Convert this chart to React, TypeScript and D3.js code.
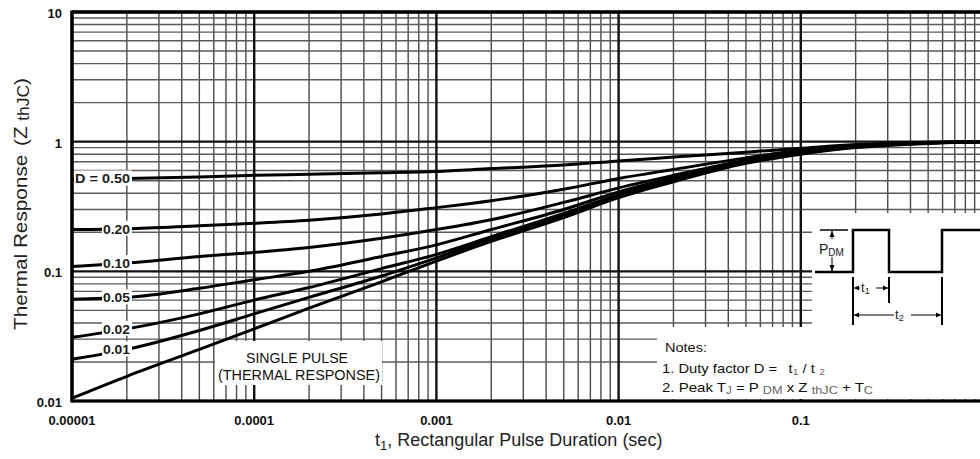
import * as d3 from "d3";

// pulse duration t1 (sec) at which each curve is read
const durations = [1e-5, 2e-5, 5e-5, 1e-4, 2e-4, 5e-4, 1e-3, 2e-3, 5e-3, 1e-2, 2e-2, 5e-2, 1e-1, 2e-1, 5e-1, 1];

// Z thJC for each duty factor
const d050 = [0.51, 0.52, 0.535, 0.55, 0.56, 0.575, 0.59, 0.62, 0.66, 0.71, 0.76, 0.83, 0.89, 0.95, 0.99, 1.0];
const d020 = [0.21, 0.213, 0.225, 0.235, 0.248, 0.277, 0.31, 0.35, 0.43, 0.52, 0.61, 0.75, 0.86, 0.93, 0.985, 1.0];
const d010 = [0.109, 0.116, 0.13, 0.14, 0.153, 0.18, 0.21, 0.25, 0.34, 0.44, 0.55, 0.72, 0.84, 0.93, 0.98, 1.0];
const d005 = [0.061, 0.063, 0.074, 0.086, 0.1, 0.13, 0.16, 0.21, 0.3, 0.41, 0.53, 0.71, 0.83, 0.92, 0.98, 1.0];
const d002 = [0.031, 0.036, 0.047, 0.06, 0.075, 0.105, 0.135, 0.185, 0.28, 0.39, 0.51, 0.7, 0.82, 0.92, 0.98, 1.0];
const d001 = [0.021, 0.025, 0.035, 0.047, 0.063, 0.092, 0.127, 0.178, 0.27, 0.38, 0.5, 0.69, 0.81, 0.91, 0.975, 1.0];
const singlePulse = [0.0105, 0.0155, 0.025, 0.036, 0.052, 0.083, 0.12, 0.17, 0.26, 0.37, 0.49, 0.68, 0.8, 0.9, 0.97, 1.0];

const dutyLabels = ["D = 0.50", "0.20", "0.10", "0.05", "0.02", "0.01"];
const dutySeries = [d050, d020, d010, d005, d002, d001];

const xTickLabels = ["0.00001", "0.0001", "0.001", "0.01", "0.1"];
const yTickLabels = ["0.01", "0.1", "1", "10"];

const width = 980;
const height = 459;
const font = "'Liberation Sans', Arial, sans-serif";
const narrow = "'Liberation Sans Narrow', 'Liberation Sans', Arial, sans-serif";

export default function App() {
  const x = d3.scaleLog().domain([1e-5, 1]).range([72, 983]);
  const y = d3.scaleLog().domain([0.01, 10]).range([401, 12]);

  const minorX: number[] = [];
  for (let e = -5; e <= -1; e++) for (let k = 2; k <= 9; k++) minorX.push(k * Math.pow(10, e));
  const minorY: number[] = [];
  for (let e = -2; e <= 0; e++) for (let k = 2; k <= 9; k++) minorY.push(k * Math.pow(10, e));
  const majorX = xTickLabels.map((d) => +d).concat([1]);
  const majorY = yTickLabels.map((d) => +d);

  const line = d3
    .line<number>()
    .x((_, i) => x(durations[i]))
    .y((d) => y(d))
    .curve(d3.curveMonotoneX);

  const [x0] = x.range();
  const [y0, y1] = y.range();

  return (
    <svg width={width} height={height} style={{ position: "absolute", left: 0, top: 0, background: "#fff" }}>
      {/* grid */}
      <g>
        {minorX.map((d) => (
          <line key={"mx" + d} x1={x(d)} x2={x(d)} y1={y1} y2={y0} stroke="#4a4a4a" strokeWidth={1.4} />
        ))}
        {minorY.map((d) => (
          <line key={"my" + d} x1={x0} x2={width} y1={y(d)} y2={y(d)} stroke="#5a5a5a" strokeWidth={1.4} />
        ))}
        {majorX.map((d) => (
          <line key={"Mx" + d} x1={x(d)} x2={x(d)} y1={y1} y2={y0} stroke="#111" strokeWidth={2.4} />
        ))}
        {majorY.map((d) => (
          <line key={"My" + d} x1={x0} x2={width} y1={y(d)} y2={y(d)} stroke="#111" strokeWidth={2.4} />
        ))}
      </g>

      {/* white panels over the grid */}
      <rect x={657} y={327} width={width - 657} height={72} fill="#fff" />
      <rect x={812} y={213} width={width - 812} height={114} fill="#fff" />
      <rect x={215} y={341} width={167} height={44} fill="#fff" />

      {/* curves */}
      {dutySeries.concat([singlePulse]).map((s, i) => (
        <path key={"c" + i} d={line(s) || ""} fill="none" stroke="#000" strokeWidth={3} strokeLinejoin="round" />
      ))}

      {/* curve labels */}
      {dutySeries.map((s, i) => {
        const ly = y(s[1]);
        const lx = i === 0 ? 75 : 103;
        return (
          <g key={"l" + i}>
            <rect x={lx - 1} y={ly - 8} width={132 - lx + 1} height={15} fill="#fff" />
            <text x={lx} y={ly + 5} fontFamily={font} fontSize={13} fontWeight="bold" fill="#1a1a1a"
              textLength={130 - lx} lengthAdjust="spacingAndGlyphs">
              {dutyLabels[i]}
            </text>
          </g>
        );
      })}

      {/* single pulse label */}
      <text x={297} y={363} textAnchor="middle" fontFamily={narrow} fontSize={14} fill="#111"
        textLength={102} lengthAdjust="spacingAndGlyphs">SINGLE PULSE</text>
      <text x={299} y={380} textAnchor="middle" fontFamily={narrow} fontSize={14} fill="#111"
        textLength={162} lengthAdjust="spacingAndGlyphs">(THERMAL RESPONSE)</text>

      {/* frame */}
      <line x1={x0} x2={width} y1={y1} y2={y1} stroke="#000" strokeWidth={3.5} />
      <line x1={x0} x2={width} y1={y0} y2={y0} stroke="#000" strokeWidth={3} />
      <line x1={x0} x2={x0} y1={y1 - 1.5} y2={y0 + 1.5} stroke="#000" strokeWidth={3.5} />

      {/* tick labels */}
      {yTickLabels.map((t) => (
        <text key={"yt" + t} x={62} y={y(+t) + 6} textAnchor="end" fontFamily={font} fontSize={13} fontWeight="bold" fill="#111">
          {t}
        </text>
      ))}
      {xTickLabels.map((t) => (
        <text key={"xt" + t} x={x(+t)} y={425} textAnchor="middle" fontFamily={font} fontSize={13} fontWeight="bold" fill="#111">
          {t}
        </text>
      ))}

      {/* axis titles */}
      <text x={375} y={446} fontFamily={font} fontSize={18} fill="#222">
        t<tspan fontSize={13} dy={4}>1</tspan>
        <tspan dy={-4}>, Rectangular Pulse Duration (sec)</tspan>
      </text>
      <text transform="translate(27,204) rotate(-90)" textAnchor="middle" fontFamily={font} fontSize={19} fill="#222"
        textLength={252} lengthAdjust="spacingAndGlyphs">
        Thermal Response<tspan dx={8}>(Z</tspan>
        <tspan dx={5} dy={2} fontSize={16}>thJC</tspan>
        <tspan dy={-2}>)</tspan>
      </text>

      {/* pulse diagram */}
      <g stroke="#000" fill="none">
        <path d="M815,272 H853 V230 H889 V272 H942 V230 H980" strokeWidth={2.5} />
        <line x1={820} x2={848} y1={230} y2={230} strokeWidth={1.5} />
        <line x1={832} x2={832} y1={231} y2={271} strokeWidth={1} />
        <line x1={853} x2={853} y1={277} y2={325} strokeWidth={2} />
        <line x1={889} x2={889} y1={277} y2={303} strokeWidth={2} />
        <line x1={942} x2={942} y1={277} y2={325} strokeWidth={2} />
        <line x1={854} x2={888} y1={288} y2={288} strokeWidth={1} />
        <line x1={854} x2={941} y1={315} y2={315} strokeWidth={1} />
      </g>
      <g fill="#000">
        <path d="M832,231 l-2.5,6 h5 z" />
        <path d="M832,271 l-2.5,-6 h5 z" />
        <path d="M854,288 l5,-2.5 v5 z" />
        <path d="M888,288 l-5,-2.5 v5 z" />
        <path d="M854,315 l5,-2.5 v5 z" />
        <path d="M941,315 l-5,-2.5 v5 z" />
      </g>
      <rect x={819} y={239} width={31} height={18} fill="#fff" />
      <text x={819} y={254} fontFamily={font} fontSize={14} fill="#222">
        P<tspan fontSize={10} dy={2}>DM</tspan>
      </text>
      <rect x={860} y={280} width={16} height={15} fill="#fff" />
      <text x={861} y={292} fontFamily={font} fontSize={13} fill="#222">
        t<tspan fontSize={9} dy={2}>1</tspan>
      </text>
      <rect x={894} y={306} width={17} height={16} fill="#fff" />
      <text x={895} y={319} fontFamily={font} fontSize={13} fill="#222">
        t<tspan fontSize={9} dy={2}>2</tspan>
      </text>

      {/* notes */}
      <text x={665} y={352} fontFamily={narrow} fontSize={13.5} fill="#111" textLength={42} lengthAdjust="spacingAndGlyphs">Notes:</text>
      <text x={662} y={373} fontFamily={narrow} fontSize={13} fill="#111" textLength={163} lengthAdjust="spacingAndGlyphs">
        1. Duty factor D =<tspan dx={10}>t</tspan>
        <tspan fontSize={9} dy={2} fill="#666">1</tspan>
        <tspan dy={-2}> / t</tspan>
        <tspan fontSize={9} dy={2} dx={4} fill="#666">2</tspan>
      </text>
      <text x={662} y={392} fontFamily={narrow} fontSize={13} fill="#111" textLength={211} lengthAdjust="spacingAndGlyphs">
        2. Peak T<tspan fontSize={10} dy={2} fill="#666">J</tspan>
        <tspan dy={-2}> = P </tspan>
        <tspan fontSize={11} dy={2} fill="#666">DM</tspan>
        <tspan dy={-2}> x  Z </tspan>
        <tspan fontSize={11} dy={2} fill="#666">thJC</tspan>
        <tspan dy={-2}>  + T</tspan>
        <tspan fontSize={11} dy={2} fill="#666">C</tspan>
      </text>
    </svg>
  );
}
